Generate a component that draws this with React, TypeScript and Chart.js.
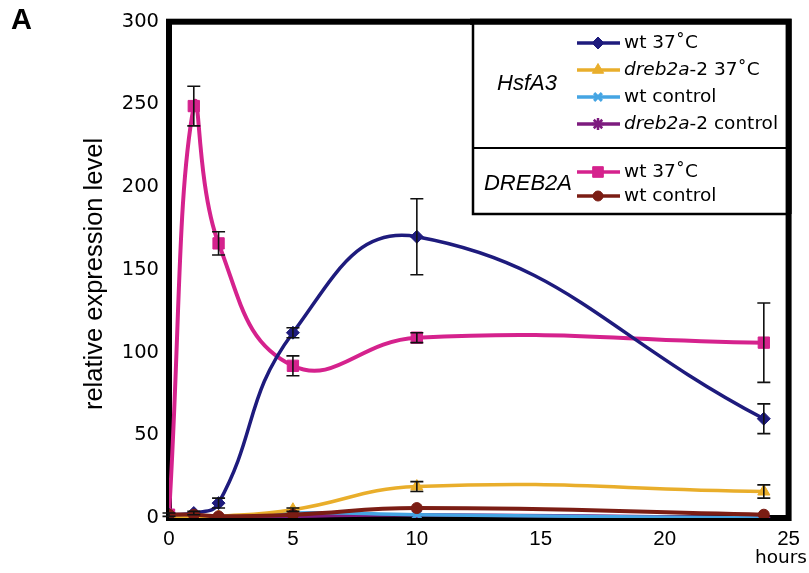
import React, { useEffect, useRef } from "react";
import { Chart, registerables } from "chart.js";
import { drawPoint } from "chart.js/helpers";

Chart.register(...registerables);

const hours = [0, 1, 2, 5, 10, 24];

const hsfWt37 = [2, 3, 9, 112, 170, 60];
const hsfWt37Err = [1, 1, 3, 3, 23, 9];
const hsfMut37 = [0, 1, 1, 5, 19, 16];
const hsfMut37Err = [0, 0, 0, 1, 3, 4];
const hsfWtCtrl = [1, 1, 0, 3, 2, 0];
const hsfMutCtrl = [0, 0, 0, 1, 2, 0];
const drebWt37 = [2, 249, 166, 92, 109, 106];
const drebWt37Err = [0, 12, 7, 6, 3, 24];
const drebWtCtrl = [2, 2, 1, 2, 6, 2];

const xTicks = [0, 5, 10, 15, 20, 25];
const yTicks = [0, 50, 100, 150, 200, 250, 300];

const FONT = "'Liberation Sans', Arial, sans-serif";
const WIDE = "'DejaVu Sans', sans-serif";

type SeriesDef = {
  label: string;
  values: number[];
  err?: number[];
  color: string;
  style: string;
  radius: number;
  lineWidth: number;
  markerBorder: number;
};

const series: SeriesDef[] = [
  { label: "wt 37˚C", values: hsfWt37, err: hsfWt37Err, color: "#1e1b7d", style: "rectRot", radius: 6.5, lineWidth: 3.5, markerBorder: 1 },
  { label: "dreb2a-2 37˚C", values: hsfMut37, err: hsfMut37Err, color: "#e9ae2b", style: "triangle", radius: 7, lineWidth: 3.5, markerBorder: 1 },
  { label: "wt control", values: hsfWtCtrl, color: "#45a5e3", style: "crossRot", radius: 6, lineWidth: 3.5, markerBorder: 3 },
  { label: "dreb2a-2 control", values: hsfMutCtrl, color: "#7d1b7e", style: "star", radius: 6.5, lineWidth: 3.5, markerBorder: 2.5 },
  { label: "wt 37˚C", values: drebWt37, err: drebWt37Err, color: "#d5228d", style: "rect", radius: 8, lineWidth: 4, markerBorder: 1 },
  { label: "wt control", values: drebWtCtrl, color: "#7b1d14", style: "circle", radius: 5.5, lineWidth: 4, markerBorder: 1 },
];

const framePlugin = {
  id: "frame",
  beforeDatasetsDraw(chart: any) {
    const { ctx, chartArea } = chart;
    ctx.save();
    ctx.strokeStyle = "#000";
    ctx.lineWidth = 6;
    ctx.lineJoin = "miter";
    ctx.strokeRect(chartArea.left, chartArea.top, chartArea.right - chartArea.left, chartArea.bottom - chartArea.top);
    ctx.restore();
  },
};

const errorBarPlugin = {
  id: "errbars",
  afterDatasetsDraw(chart: any) {
    const { ctx } = chart;
    const xs = chart.scales.x;
    const ys = chart.scales.y;
    ctx.save();
    ctx.strokeStyle = "#111";
    ctx.lineWidth = 1.6;
    series.forEach((s) => {
      if (!s.err) return;
      s.values.forEach((v, i) => {
        const e = s.err![i];
        if (!e) return;
        const x = xs.getPixelForValue(hours[i]);
        const y1 = ys.getPixelForValue(v - e);
        const y2 = ys.getPixelForValue(v + e);
        ctx.beginPath();
        ctx.moveTo(x, y1);
        ctx.lineTo(x, y2);
        ctx.moveTo(x - 6.5, y1);
        ctx.lineTo(x + 6.5, y1);
        ctx.moveTo(x - 6.5, y2);
        ctx.lineTo(x + 6.5, y2);
        ctx.stroke();
      });
    });
    ctx.restore();
  },
};

const legendPlugin = {
  id: "customLegend",
  afterDraw(chart: any) {
    const { ctx, chartArea } = chart;
    ctx.save();
    const bx = 473;
    const by = chartArea.top;
    const bw = chartArea.right - bx;
    const bh = 214 - by;
    ctx.fillStyle = "#fff";
    ctx.fillRect(bx, by, bw, bh);
    ctx.strokeStyle = "#000";
    ctx.lineWidth = 2.5;
    ctx.strokeRect(bx, by, bw, bh);
    ctx.beginPath();
    ctx.lineWidth = 2;
    ctx.moveTo(bx, 148);
    ctx.lineTo(chartArea.right, 148);
    ctx.stroke();
    ctx.lineWidth = 6;
    ctx.beginPath();
    ctx.moveTo(bx - 3, chartArea.top);
    ctx.lineTo(chartArea.right, chartArea.top);
    ctx.lineTo(chartArea.right, 214);
    ctx.stroke();

    const rows = [43, 70, 97, 124, 172, 196];
    const x0 = 577;
    const x1 = 620;
    const mx = 598;
    series.forEach((s, i) => {
      const y = rows[i];
      ctx.strokeStyle = s.color;
      ctx.fillStyle = s.color;
      ctx.lineWidth = 3.5;
      ctx.beginPath();
      ctx.moveTo(x0, y);
      ctx.lineTo(x1, y);
      ctx.stroke();
      ctx.lineWidth = s.markerBorder;
      drawPoint(ctx, { pointStyle: s.style, radius: s.radius - 0.5, rotation: 0, borderWidth: s.markerBorder } as any, mx, y);
      ctx.fillStyle = "#000";
      ctx.textBaseline = "middle";
      ctx.textAlign = "left";
      const tx = 624;
      if (s.label.startsWith("dreb2a-2")) {
        ctx.font = `italic 18.5px ${WIDE}`;
        const it = "dreb2a";
        ctx.fillText(it, tx, y);
        const w = ctx.measureText(it).width;
        ctx.font = `18.5px ${WIDE}`;
        ctx.fillText(s.label.slice(6), tx + w, y);
      } else {
        ctx.font = `18.5px ${WIDE}`;
        ctx.fillText(s.label, tx, y);
      }
    });
    ctx.font = `italic 22px ${FONT}`;
    ctx.textAlign = "center";
    ctx.fillText("HsfA3", 527, 84);
    ctx.fillText("DREB2A", 528, 184);

    ctx.font = `bold 29px ${FONT}`;
    ctx.textAlign = "left";
    ctx.fillText("A", 11, 21);
    ctx.font = `18.5px ${WIDE}`;
    ctx.textAlign = "center";
    ctx.fillText("hours", 781, 558);
    ctx.save();
    ctx.translate(95, 274);
    ctx.rotate(-Math.PI / 2);
    ctx.font = `25.5px ${FONT}`;
    ctx.fillText("relative expression level", 0, 0);
    ctx.restore();
    ctx.restore();
  },
};

export default function App() {
  const ref = useRef<HTMLCanvasElement | null>(null);
  useEffect(() => {
    if (!ref.current) return;
    const chart = new Chart(ref.current, {
      type: "line",
      data: {
        datasets: series.map((s, i) => ({
          label: s.label,
          data: s.values.map((v, j) => ({ x: hours[j], y: v })),
          borderColor: s.color,
          backgroundColor: s.color,
          borderWidth: s.lineWidth,
          pointStyle: s.style as any,
          pointRadius: s.radius,
          pointBorderWidth: s.markerBorder,
          pointBorderColor: s.color,
          pointBackgroundColor: s.color,
          tension: 0.45,
          fill: false,
          order: i === 5 ? 0 : i + 1,
        })),
      },
      options: {
        responsive: false,
        animation: false,
        events: [],
        layout: { padding: { top: 20, right: 13, bottom: 0, left: 0 } },
        plugins: { legend: { display: false }, tooltip: { enabled: false } },
        scales: {
          x: {
            type: "linear",
            min: 0,
            max: 25,
            grid: { display: false, drawTicks: false },
            border: { display: false },
            afterFit: (s: any) => { s.height = 55; },
            afterBuildTicks: (s: any) => { s.ticks = xTicks.map((v) => ({ value: v })); },
            ticks: { color: "#000", font: { family: FONT, size: 20.5 }, padding: 9, maxRotation: 0 },
          },
          y: {
            min: 0,
            max: 300,
            grid: { display: false, drawTicks: false },
            border: { display: false },
            afterFit: (s: any) => { s.width = 169; },
            afterBuildTicks: (s: any) => { s.ticks = yTicks.map((v) => ({ value: v })); },
            ticks: { color: "#000", font: { family: WIDE, size: 19.5 }, padding: 10 },
          },
        },
      },
      plugins: [framePlugin, errorBarPlugin, legendPlugin],
    });
    return () => chart.destroy();
  }, []);
  return (
    <div style={{ position: "fixed", left: 0, top: 0, width: 809, height: 573, background: "#fff" }}>
      <canvas ref={ref} width={809} height={573} style={{ width: 809, height: 573, display: "block" }} />
    </div>
  );
}
